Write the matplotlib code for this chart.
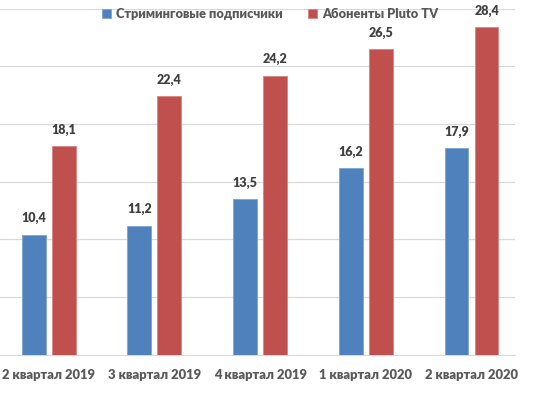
import matplotlib.pyplot as plt
import numpy as np

categories = ["2 квартал 2019", "3 квартал 2019", "4 квартал 2019", "1 квартал 2020", "2 квартал 2020"]
streaming = [10.4, 11.2, 13.5, 16.2, 17.9]
pluto = [18.1, 22.4, 24.2, 26.5, 28.4]
series_names = ["Стриминговые подписчики", "Абоненты Pluto TV"]

blue = "#4F81BD"
red = "#C0504D"

plt.rcParams['font.family'] = ['Lato', 'DejaVu Sans']

fig = plt.figure(figsize=(5.33, 3.96), dpi=100)
ax = fig.add_axes([0.0, 0.104, 0.966, 0.874])

x = np.arange(len(categories))
w = 0.225
off = 0.142
b1 = ax.bar(x - off, streaming, w, color=blue, edgecolor="#7FA3D3", linewidth=0.6, label=series_names[0], zorder=3)
b2 = ax.bar(x + off, pluto, w, color=red, edgecolor="#D88481", linewidth=0.6, label=series_names[1], zorder=3)

for bars, vals in ((b1, streaming), (b2, pluto)):
    for r, v in zip(bars, vals):
        ax.text(r.get_x() + r.get_width() / 2, v + 0.9, f"{v:.1f}".replace(".", ","),
                ha="center", va="bottom", fontsize=9, fontweight="heavy", color="#404040")

ax.set_xlim(-0.46, 4.41)
ax.set_ylim(0, 30)
ax.set_yticks(np.arange(0, 31, 5))
ax.yaxis.grid(True, color="#D9D9D9", linewidth=0.9, zorder=0)
ax.tick_params(axis="y", left=False, labelleft=False)
ax.tick_params(axis="x", length=0, pad=10)
ax.set_xticks(x)
ax.set_xticklabels(categories, fontsize=9.4, fontweight="heavy", color="#595959")
for s in ["top", "right", "left"]:
    ax.spines[s].set_visible(False)
ax.spines["bottom"].set_color("#D9D9D9")

leg = fig.legend(loc="upper center", bbox_to_anchor=(0.507, 1.01), ncol=2, frameon=False,
                 handlelength=0.7, handleheight=0.7, columnspacing=2.0, handletextpad=0.4,
                 prop={"size": 9.2, "weight": "heavy"})
for t in leg.get_texts():
    t.set_color("#595959")

fig.savefig("out.png", dpi=100)
